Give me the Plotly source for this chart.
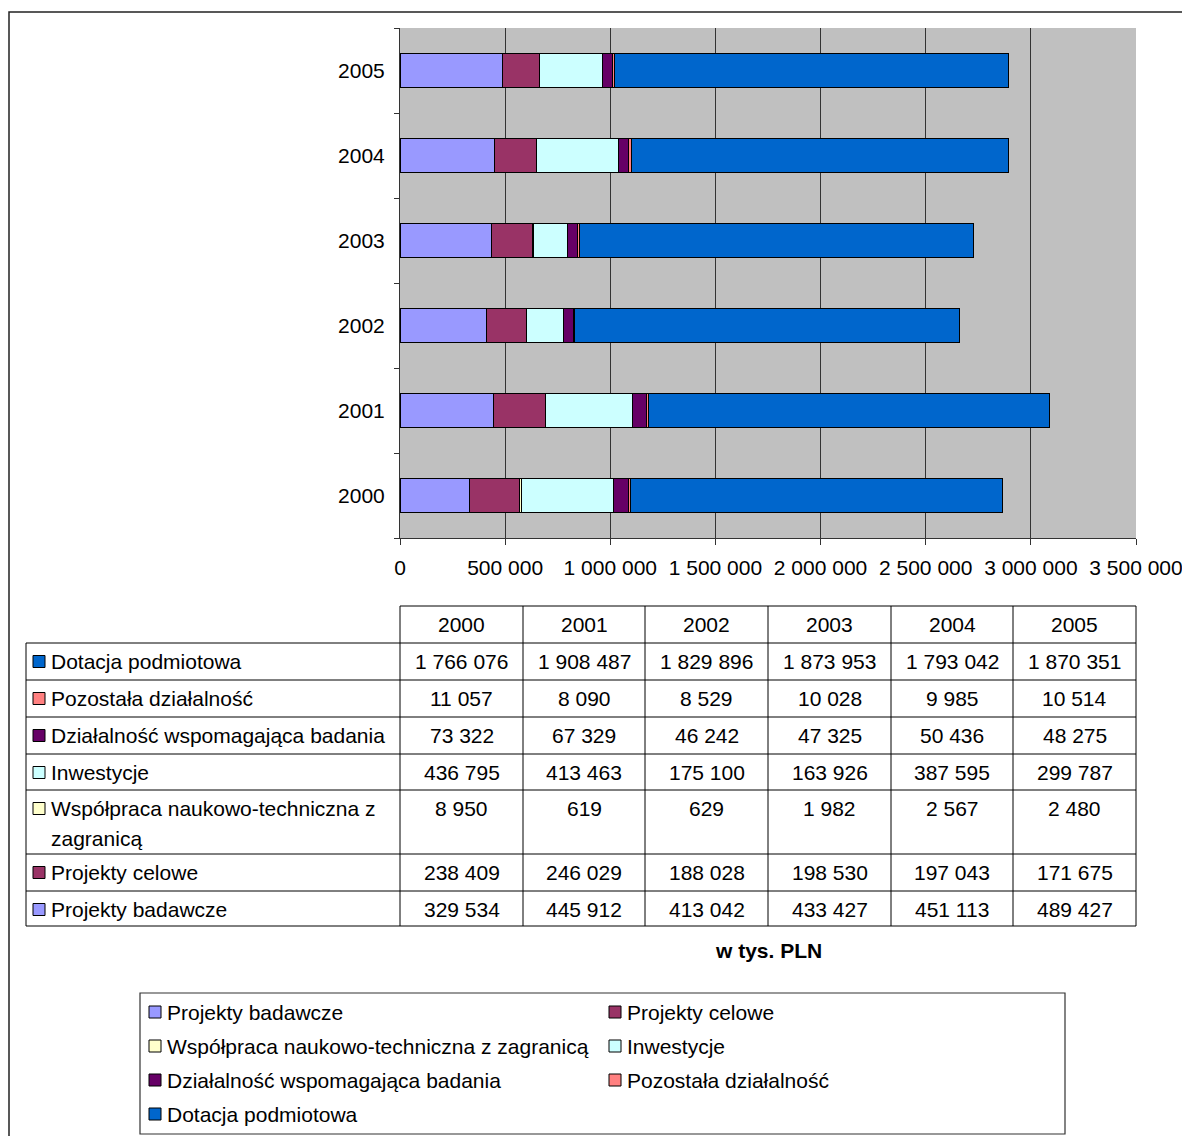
import plotly.graph_objects as go

# ---------------- data ----------------
years = ["2000", "2001", "2002", "2003", "2004", "2005"]

series_names = [
    "Projekty badawcze",
    "Projekty celowe",
    "Współpraca naukowo-techniczna z zagranicą",
    "Inwestycje",
    "Działalność wspomagająca badania",
    "Pozostała działalność",
    "Dotacja podmiotowa",
]
projekty_badawcze = [329534, 445912, 413042, 433427, 451113, 489427]
projekty_celowe = [238409, 246029, 188028, 198530, 197043, 171675]
wspolpraca = [8950, 619, 629, 1982, 2567, 2480]
inwestycje = [436795, 413463, 175100, 163926, 387595, 299787]
dzialalnosc_wspomagajaca = [73322, 67329, 46242, 47325, 50436, 48275]
pozostala = [11057, 8090, 8529, 10028, 9985, 10514]
dotacja = [1766076, 1908487, 1829896, 1873953, 1793042, 1870351]

series_values = [projekty_badawcze, projekty_celowe, wspolpraca, inwestycje,
                 dzialalnosc_wspomagajaca, pozostala, dotacja]
series_colors = ["#9999FF", "#993366", "#FFFFCC", "#CCFFFF", "#660066", "#FF8080", "#0066CC"]

x_ticks = [0, 500000, 1000000, 1500000, 2000000, 2500000, 3000000, 3500000]
unit_label = "w tys. PLN"

# ---------------- layout geometry (page pixels) ----------------
PAGE_W, PAGE_H = 1190, 1136
BODY = 8                      # default body margin of the html page
W, H = PAGE_W - BODY, PAGE_H - BODY
PL, PR, PT, PB = 400, 1136, 28, 538   # plot area in page pixels
FONT = "Liberation Sans, Arial, sans-serif"
FS = 21


def fx(px):
    return (px - PL) / (PR - PL)


def fy(py):
    return (PB - py) / (PB - PT)


def fmt(v):
    return f"{v:,}".replace(",", " ")


fig = go.Figure()
for name, vals, col in zip(series_names, series_values, series_colors):
    fig.add_trace(go.Bar(
        y=years, x=vals, name=name, orientation="h",
        marker=dict(color=col, line=dict(color="black", width=1)),
        showlegend=False,
    ))

shapes = []
ann = []

# outer border
shapes.append(dict(type="rect", xref="paper", yref="paper",
                   x0=fx(9), x1=fx(1220), y0=fy(12), y1=fy(1170),
                   line=dict(color="#222222", width=1.5)))

# ---------------- data table ----------------
col_edges = [400, 523, 645, 768, 891, 1013, 1136]
row_edges = [643, 680, 717, 754, 790, 854, 891, 926]
header_top = 606
table_left = 26

shapes.append(dict(type="line", xref="paper", yref="paper",
                   x0=fx(col_edges[0]), x1=fx(col_edges[-1]), y0=fy(header_top), y1=fy(header_top),
                   line=dict(color="black", width=1)))
for ry in row_edges:
    shapes.append(dict(type="line", xref="paper", yref="paper",
                       x0=fx(table_left), x1=fx(col_edges[-1]), y0=fy(ry), y1=fy(ry),
                       line=dict(color="black", width=1)))
for cx in col_edges:
    shapes.append(dict(type="line", xref="paper", yref="paper",
                       x0=fx(cx), x1=fx(cx), y0=fy(header_top), y1=fy(row_edges[-1]),
                       line=dict(color="black", width=1)))
shapes.append(dict(type="line", xref="paper", yref="paper",
                   x0=fx(table_left), x1=fx(table_left), y0=fy(row_edges[0]), y1=fy(row_edges[-1]),
                   line=dict(color="black", width=1)))

for i, yr in enumerate(years):
    cx = (col_edges[i] + col_edges[i + 1]) / 2
    ann.append(dict(x=fx(cx), y=fy(624), text=yr))

table_order = list(range(len(series_names)))[::-1]
for r, si in enumerate(table_order):
    top = row_edges[r]
    cy = top + 18.5
    shapes.append(dict(type="rect", xref="paper", yref="paper",
                       x0=fx(33), x1=fx(45), y0=fy(cy - 6), y1=fy(cy + 6),
                       fillcolor=series_colors[si], line=dict(color="black", width=1)))
    name = series_names[si]
    if si == 2:
        ann.append(dict(x=fx(49), y=fy(cy), text="Współpraca naukowo-techniczna z", xanchor="left"))
        ann.append(dict(x=fx(49), y=fy(cy + 30), text="zagranicą", xanchor="left"))
    else:
        ann.append(dict(x=fx(49), y=fy(cy), text=name, xanchor="left"))
    for i in range(len(years)):
        cx = (col_edges[i] + col_edges[i + 1]) / 2
        ann.append(dict(x=fx(cx), y=fy(cy), text=fmt(series_values[si][i])))

ann.append(dict(x=fx(768), y=fy(950), text="<b>" + unit_label + "</b>"))

# ---------------- legend ----------------
shapes.append(dict(type="rect", xref="paper", yref="paper",
                   x0=fx(140), x1=fx(1065), y0=fy(993), y1=fy(1134),
                   line=dict(color="#333333", width=1.2)))
leg_rows = [1012, 1046, 1080, 1114]
leg_cols = [(149, 165), (609, 625)]
for k, name in enumerate(series_names):
    r, c = divmod(k, 2)
    sx, tx = leg_cols[c]
    cy = leg_rows[r]
    shapes.append(dict(type="rect", xref="paper", yref="paper",
                       x0=fx(sx), x1=fx(sx + 12), y0=fy(cy - 6), y1=fy(cy + 6),
                       fillcolor=series_colors[k], line=dict(color="black", width=1)))
    ann.append(dict(x=fx(tx), y=fy(cy), text=name, xanchor="left"))

for a in ann:
    a.setdefault("xanchor", "center")
    a.update(xref="paper", yref="paper", yanchor="middle", showarrow=False,
             font=dict(family=FONT, size=FS, color="black"))

fig.update_layout(
    width=W, height=H,
    margin=dict(l=PL - BODY, r=W - (PR - BODY), t=PT - BODY, b=H - (PB - BODY), pad=0,
                autoexpand=False),
    barmode="stack",
    bargap=0.61,
    plot_bgcolor="#C0C0C0",
    paper_bgcolor="white",
    font=dict(family=FONT, size=FS, color="black"),
    shapes=shapes,
    annotations=ann,
    showlegend=False,
)
fig.update_xaxes(
    range=[0, 3500000], tickvals=x_ticks, ticktext=[fmt(v) for v in x_ticks],
    showgrid=True, gridcolor="#333333", gridwidth=1,
    showline=True, linecolor="#333333", linewidth=1,
    ticks="outside", ticklen=6, tickcolor="#333333",
    zeroline=False, tickfont=dict(size=FS), ticklabelstandoff=5, automargin=False,
)
fig.update_yaxes(
    type="category", categoryorder="array", categoryarray=years,
    showline=True, linecolor="#333333", linewidth=1,
    ticks="outside", ticklen=5, tickcolor="#333333", tickson="boundaries",
    showgrid=False, ticklabelstandoff=10, tickfont=dict(size=FS), automargin=False,
)

fig.write_html("out.html", config={"displayModeBar": False})
